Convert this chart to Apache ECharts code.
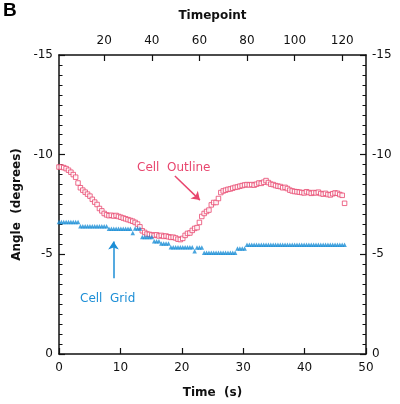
<!DOCTYPE html>
<html><head><meta charset="utf-8">
<script src="https://cdn.jsdelivr.net/npm/echarts@6/dist/echarts.min.js"></script>
<style>html,body{margin:0;padding:0;background:#fff}#c{width:400px;height:404px}</style>
</head><body><div id="c"></div>
<script>
// Cell Outline angle (degrees) at timepoints 1..121
const cellOutline = [
-9.38,-9.38,-9.35,-9.30,-9.22,-9.12,-9.00,-8.87,-8.58,-8.34,
-8.22,-8.12,-8.02,-7.92,-7.76,-7.62,-7.50,-7.30,-7.18,-7.05,
-6.98,-6.94,-6.96,-6.92,-6.95,-6.90,-6.86,-6.82,-6.78,-6.74,
-6.70,-6.66,-6.60,-6.52,-6.38,-6.18,-6.10,-6.02,-6.00,-5.97,
-5.95,-5.98,-5.92,-5.95,-5.90,-5.92,-5.88,-5.85,-5.86,-5.82,
-5.76,-5.74,-5.80,-5.95,-6.05,-6.07,-6.20,-6.30,-6.34,-6.60,
-6.90,-7.05,-7.15,-7.22,-7.48,-7.60,-7.60,-7.80,-8.10,-8.18,
-8.22,-8.26,-8.28,-8.32,-8.36,-8.38,-8.42,-8.45,-8.48,-8.50,
-8.48,-8.50,-8.47,-8.52,-8.58,-8.56,-8.62,-8.70,-8.60,-8.52,
-8.50,-8.45,-8.42,-8.40,-8.34,-8.36,-8.30,-8.22,-8.18,-8.15,
-8.14,-8.12,-8.10,-8.08,-8.14,-8.10,-8.06,-8.10,-8.08,-8.12,
-8.05,-8.02,-8.06,-8.00,-7.98,-8.04,-8.08,-8.06,-8.00,-7.96,
-7.56];
// Cell Grid angle (degrees) at timepoints 1..121
const cellGrid = [
-6.62,-6.62,-6.62,-6.62,-6.62,-6.62,-6.62,-6.62,-6.62,-6.41,
-6.41,-6.41,-6.41,-6.41,-6.41,-6.41,-6.41,-6.41,-6.41,-6.41,
-6.41,-6.28,-6.28,-6.28,-6.28,-6.28,-6.28,-6.28,-6.28,-6.28,
-6.28,-6.07,-6.30,-6.30,-6.30,-5.87,-5.87,-5.87,-5.87,-5.87,
-5.66,-5.66,-5.66,-5.54,-5.54,-5.54,-5.54,-5.36,-5.36,-5.36,
-5.36,-5.36,-5.36,-5.36,-5.36,-5.36,-5.36,-5.16,-5.34,-5.34,
-5.34,-5.08,-5.08,-5.08,-5.08,-5.08,-5.08,-5.08,-5.08,-5.08,
-5.08,-5.08,-5.08,-5.08,-5.08,-5.29,-5.29,-5.29,-5.29,-5.48,
-5.48,-5.48,-5.48,-5.48,-5.48,-5.48,-5.48,-5.48,-5.48,-5.48,
-5.48,-5.48,-5.48,-5.48,-5.48,-5.48,-5.48,-5.48,-5.48,-5.48,
-5.48,-5.48,-5.48,-5.48,-5.48,-5.48,-5.48,-5.48,-5.48,-5.48,
-5.48,-5.48,-5.48,-5.48,-5.48,-5.48,-5.48,-5.48,-5.48,-5.48,
-5.48];
const timeTicks = [0, 10, 20, 30, 40, 50];
const timepointTicks = [20, 40, 60, 80, 100, 120];
const angleTicks = [-15, -10, -5, 0];

const RED = '#e8466e', BLUE = '#1c8ed6';
const outlineData = cellOutline.map((v, i) => [i + 1, v]);
const gridData = cellGrid.map((v, i) => [i + 1, v]);

const font = 'DejaVu Sans';
const labelStyle = {color: '#111', fontFamily: font, fontSize: 12};
const yAxisBase = {
  type: 'value', min: angleTicks[0], max: angleTicks[angleTicks.length - 1], interval: 5, inverse: true,
  axisLine: {show: true, onZero: false, lineStyle: {color: '#111', width: 1.5}},
  axisTick: {show: true, inside: true, length: 6, lineStyle: {color: '#111', width: 1.2}},
  minorTick: {show: true, splitNumber: 10, length: 3.5, lineStyle: {color: '#111', width: 1}},
  splitLine: {show: false},
  axisLabel: Object.assign({margin: 6}, labelStyle)
};

const chart = echarts.init(document.getElementById('c'));
chart.setOption({
  animation: false,
  backgroundColor: '#fff',
  grid: {left: 59, right: 34, top: 55, bottom: 45},
  xAxis: [
    {
      type: 'value', position: 'bottom', min: timeTicks[0], max: timeTicks[timeTicks.length - 1], interval: 10,
      name: 'Time  (s)', nameLocation: 'middle', nameGap: 33,
      nameTextStyle: {fontFamily: font, fontWeight: 'bold', fontSize: 12, color: '#111'},
      axisLine: {show: true, onZero: false, lineStyle: {color: '#111', width: 1.5}},
      axisTick: {show: true, inside: true, length: 6, lineStyle: {color: '#111', width: 1.2}},
      splitLine: {show: false},
      axisLabel: Object.assign({margin: 8}, labelStyle)
    },
    {
      type: 'value', position: 'top', min: 1, max: 130,
      name: 'Timepoint', nameLocation: 'middle', nameGap: 33,
      nameTextStyle: {fontFamily: font, fontWeight: 'bold', fontSize: 12, color: '#111'},
      axisLine: {show: true, onZero: false, lineStyle: {color: '#111', width: 1.5}},
      axisTick: {show: true, inside: true, length: 6, customValues: timepointTicks, lineStyle: {color: '#111', width: 1.2}},
      splitLine: {show: false},
      axisLabel: Object.assign({margin: 8, customValues: timepointTicks}, labelStyle)
    }
  ],
  yAxis: [
    Object.assign({}, yAxisBase, {position: 'left', name: 'Angle  (degrees)', nameLocation: 'middle', nameGap: 30,
      nameTextStyle: {fontFamily: font, fontWeight: 'bold', fontSize: 12, color: '#111'}}),
    Object.assign({}, yAxisBase, {position: 'right'})
  ],
  graphic: [
    {type: 'text', left: 3, top: 1, style: {text: 'B', fontFamily: 'Liberation Sans', fontWeight: 'bold', fontSize: 19, fill: '#000'}},
    {type: 'text', left: 137, top: 162, style: {text: 'Cell  Outline', fontFamily: font, fontSize: 12, fill: RED}},
    {type: 'text', left: 80, top: 293, style: {text: 'Cell  Grid', fontFamily: font, fontSize: 12, fill: BLUE}}
  ],
  series: [
    {
      name: 'Cell Outline', type: 'scatter', xAxisIndex: 1, yAxisIndex: 0,
      symbol: 'rect', symbolSize: 4.5,
      itemStyle: {color: '#fff', borderColor: RED, borderWidth: 1},
      data: outlineData,
      markLine: {
        silent: true, animation: false,
        symbol: ['none', 'arrow'], symbolSize: 8,
        lineStyle: {color: RED, width: 1.5, type: 'solid'},
        label: {show: false},
        data: [[{coord: [49.7, -8.93]}, {coord: [60.2, -7.72]}]]
      }
    },
    {
      name: 'Cell Grid', type: 'scatter', xAxisIndex: 1, yAxisIndex: 0,
      symbol: 'triangle', symbolSize: 4.5,
      itemStyle: {color: BLUE},
      data: gridData,
      markLine: {
        silent: true, animation: false,
        symbol: ['none', 'arrow'], symbolSize: 8,
        lineStyle: {color: BLUE, width: 1.5, type: 'solid'},
        label: {show: false},
        data: [[{coord: [23.9, -3.8]}, {coord: [23.9, -5.65]}]]
      }
    }
  ]
});
</script></body></html>
